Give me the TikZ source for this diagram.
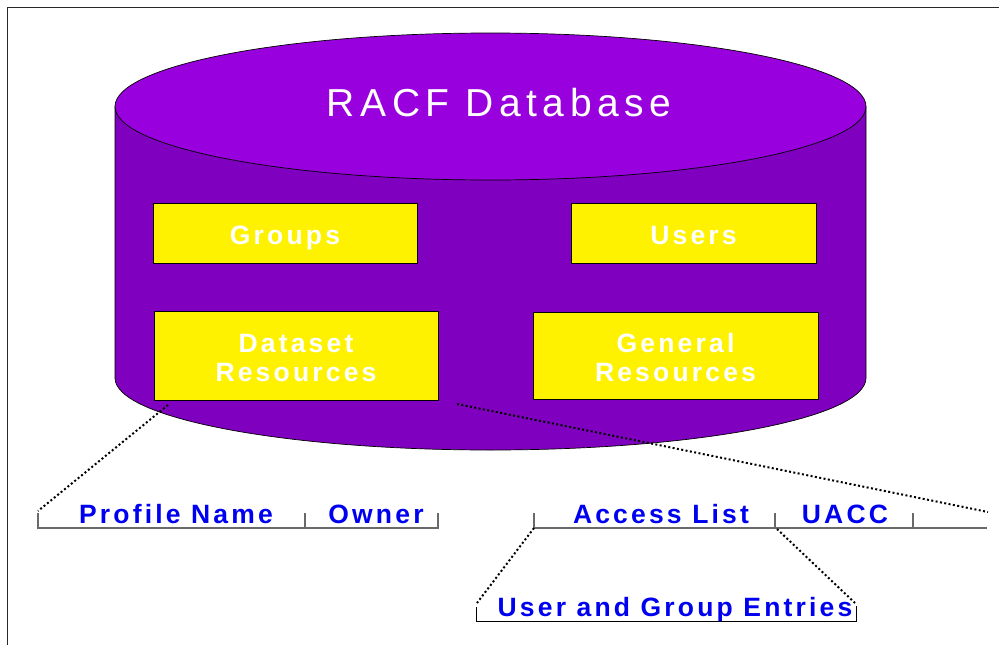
\documentclass[tikz,border=0pt]{standalone}
\usepackage{fontspec}
\usetikzlibrary{calc}
\setmainfont{Liberation Sans}
\newfontfamily\racffont[LetterSpace=14]{Liberation Sans}
\newfontfamily\lblfont[LetterSpace=12]{Liberation Sans}
\definecolor{toppurple}{RGB}{153,0,222}
\definecolor{bodypurple}{RGB}{127,0,190}
\definecolor{lblblue}{RGB}{0,0,240}
\definecolor{brgray}{RGB}{105,105,105}
\definecolor{framegray}{RGB}{40,40,40}
\begin{document}
\begin{tikzpicture}[x=1pt,y=-1pt,
  ybox/.style={draw=black, line width=0.8pt, fill=yellow, text=white,
    font=\lblfont\bfseries\fontsize{26.5}{29}\selectfont, align=center, inner sep=0pt},
  lbl/.style={text=lblblue, font=\lblfont\bfseries\fontsize{26.5}{29}\selectfont,
    anchor=base, inner sep=0pt},
  bracketline/.style={draw=brgray, line width=1.5pt},
  dotline/.style={draw=black, line width=2pt, dash pattern=on 2pt off 2.4pt},
  cylout/.style={draw=black, line width=0.7pt},
]
\useasboundingbox (0,0) rectangle (999,645);
% frame
\draw[framegray, line width=1.5pt] (999,7.5) -- (7.5,7.5) -- (7.5,645);
% cylinder body
\path[cylout, fill=bodypurple] (115,107) -- (115,378)
  arc[start angle=180, end angle=0, x radius=375.5, y radius=72] -- (866,107) -- cycle;
% top ellipse
\path[cylout, fill=toppurple] (490.5,106.5) ellipse [x radius=375.5, y radius=73.5];
\node[text=white, font=\racffont\fontsize{39}{42}\selectfont, anchor=base, inner sep=0pt]
  (title) at (499,116) {RACF Database};
% boxes
\node[ybox, minimum width=264pt, minimum height=60pt, text height=22pt, text depth=0pt]
  (groups) at (285,233) {Groups};
\node[ybox, minimum width=245pt, minimum height=60pt, text height=22pt, text depth=0pt]
  (users) at (693.5,233) {Users};
\node[ybox, minimum width=284pt, minimum height=89pt, text height=51pt, text depth=0pt]
  (dsres) at (296,355.5) {Dataset\\Resources};
\node[ybox, minimum width=285pt, minimum height=87pt, text height=51pt, text depth=0pt]
  (genres) at (675.5,355.5) {General\\Resources};
% labels
\node[lbl] (profname) at (176,523) {Profile Name};
\node[lbl] (owner) at (376,523) {Owner};
\node[lbl] (acclist) at (661,523) {Access List};
\node[lbl] (uacc) at (845,523) {UACC};
\node[lbl] (entries) at (675,616) {User and Group Entries};
% bracket coordinates
\coordinate (r1a) at (38,528);
\coordinate (r1b) at (305,528);
\coordinate (r1c) at (438,528);
\coordinate (r2a) at (534,528);
\coordinate (r2b) at (775,528);
\coordinate (r2c) at (913,528);
\coordinate (r2d) at (987,528);
\coordinate (r3a) at (476,621);
\coordinate (r3b) at (856,621);
% brackets
\draw[bracketline] ($(r1a)+(0,-15)$) -- (r1a) -- (r1c) -- ($(r1c)+(0,-15)$);
\draw[bracketline] (r1b) -- ($(r1b)+(0,-15)$);
\draw[bracketline] ($(r2a)+(0,-15)$) -- (r2a) -- (r2d);
\draw[bracketline] (r2b) -- ($(r2b)+(0,-15)$);
\draw[bracketline] (r2c) -- ($(r2c)+(0,-15)$);
\draw[line width=1pt, black] ($(r3a)+(0,-14)$) -- (r3a) -- (r3b) -- ($(r3b)+(0,-15)$);
% dotted connectors
\coordinate (d1s) at (168,405);
\coordinate (d1e) at (38,511);
\coordinate (d2s) at (457,404);
\coordinate (d2e) at (988,512);
\coordinate (d3e) at (477,603);
\coordinate (d4s) at (777,529);
\coordinate (d4e) at (855,603);
\draw[dotline] (d1s) -- (d1e);
\draw[dotline] (d2s) -- (d2e);
\draw[dotline] (r2a) -- (d3e);
\draw[dotline] (d4s) -- (d4e);
\end{tikzpicture}
\end{document}
